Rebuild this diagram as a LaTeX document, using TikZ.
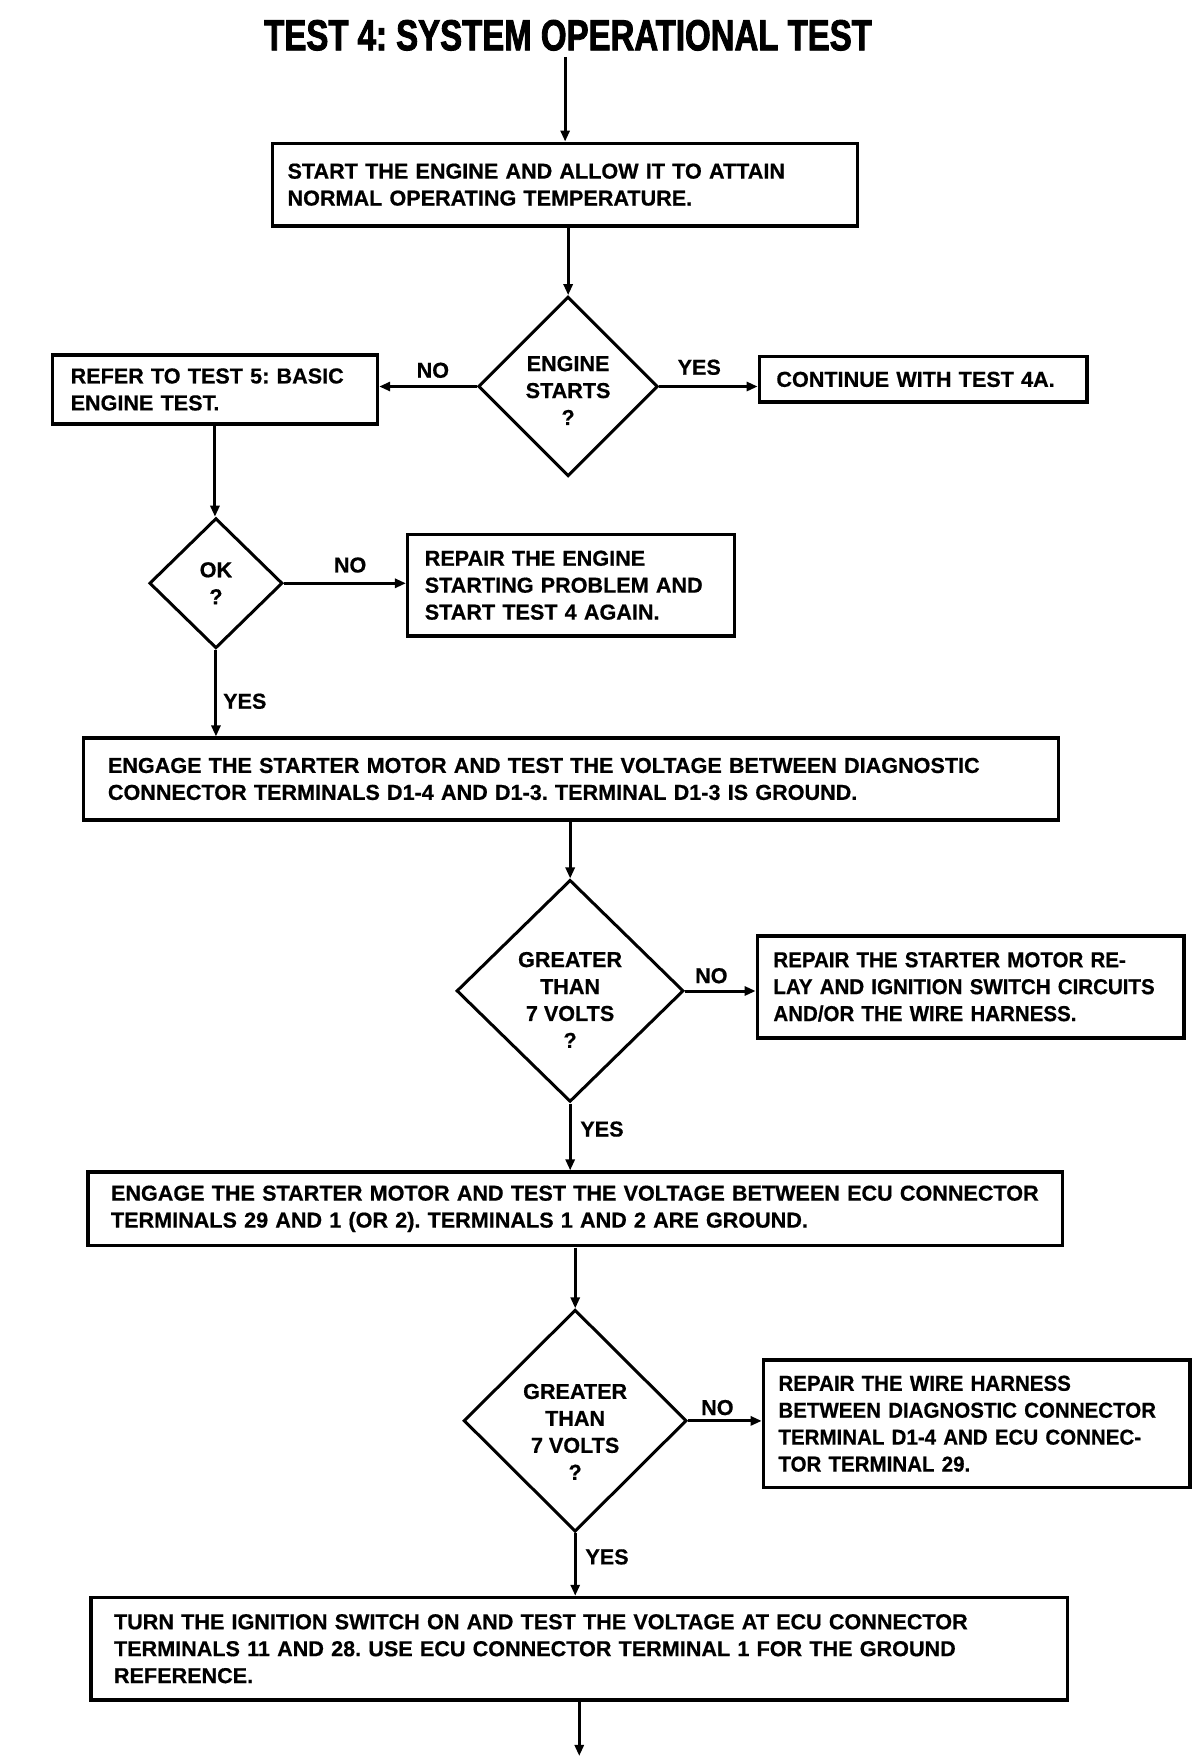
\documentclass[tikz,border=0pt]{standalone}
\usepackage{fontspec}
\setmainfont{Liberation Sans}[BoldFeatures={FakeBold=0.6}]
\newfontfamily\titlefont[FakeStretch=0.76,FakeBold=2]{Liberation Sans Bold}
\newfontfamily\narrowfont[FakeStretch=0.95,FakeBold=0.6]{Liberation Sans Bold}
\usetikzlibrary{shapes.geometric,arrows.meta,calc}
\frenchspacing
\begin{document}
\frenchspacing
\begin{tikzpicture}[x=1pt,y=-1pt, scale=1.009, transform shape,
  every node/.style={font=\fontsize{21.4}{26.7}\selectfont\bfseries},
  box/.style={draw, line width=3.5pt, align=left, inner ysep=0pt, anchor=center},
  narrow/.style={font=\narrowfont\fontsize{21.4}{26.7}\selectfont},
  dia/.style={draw, diamond, line width=3pt, inner sep=0pt},
  dtxt/.style={align=center, inner sep=0pt},
  arr/.style={line width=3pt, -{Triangle[length=11pt,width=9pt]}},
  lbl/.style={inner sep=0pt}]
\useasboundingbox (0,0) rectangle (1189.3,1742.3);
\fill[white] (0,0) rectangle (1189.3,1742.3);

\node[lbl, font=\titlefont\fontsize{43}{50}\selectfont] (title) at (563,35) {TEST 4: SYSTEM OPERATIONAL TEST};

\node[box, inner xsep=15pt, text width=550pt, minimum height=82pt] (box1) at (560,183)
  {START THE ENGINE AND ALLOW IT TO ATTAIN\\NORMAL OPERATING TEMPERATURE.};
\node[dia, minimum width=178pt, minimum height=178pt] (d1) at (563,383) {};
\node[dtxt] (d1t) at (563,387) {ENGINE\\STARTS\\?};
\node[box, inner xsep=18pt, text width=286pt, minimum height=68pt] (box2) at (213,386)
  {REFER TO TEST 5: BASIC\\ENGINE TEST.};
\node[box, inner xsep=17pt, text width=291pt, minimum height=45pt] (box3) at (915,376)
  {CONTINUE WITH TEST 4A.};
\node[dia, minimum width=132pt, minimum height=129pt] (d2) at (214,578) {};
\node[dtxt] (d2t) at (214,578) {OK\\?};
\node[box, inner xsep=17pt, text width=290pt, minimum height=101pt] (box4) at (566,580)
  {REPAIR THE ENGINE\\STARTING PROBLEM AND\\START TEST 4 AGAIN.};
\node[box, inner xsep=24pt, text width=918pt, minimum height=81pt] (box5) at (566,772)
  {ENGAGE THE STARTER MOTOR AND TEST THE VOLTAGE BETWEEN DIAGNOSTIC\\CONNECTOR TERMINALS D1-4 AND D1-3. TERMINAL D1-3 IS GROUND.};
\node[dia, minimum width=225pt, minimum height=220pt] (d3) at (565,982) {};
\node[dtxt] (d3t) at (565,991) {GREATER\\THAN\\7 VOLTS\\?};
\node[box, narrow, inner xsep=16pt, text width=391pt, minimum height=101pt] (box6) at (962,978)
  {\mbox{REPAIR THE STARTER MOTOR RE-}\\\mbox{LAY AND IGNITION SWITCH CIRCUITS}\\\mbox{AND/OR THE WIRE HARNESS.}};
\node[box, inner xsep=23pt, text width=920pt, minimum height=73pt] (box7) at (570,1198)
  {ENGAGE THE STARTER MOTOR AND TEST THE VOLTAGE BETWEEN ECU CONNECTOR\\TERMINALS 29 AND 1 (OR 2). TERMINALS 1 AND 2 ARE GROUND.};
\node[dia, minimum width=221pt, minimum height=220pt] (d4) at (570,1408) {};
\node[dtxt] (d4t) at (570,1419) {GREATER\\THAN\\7 VOLTS\\?};
\node[box, narrow, inner xsep=15pt, text width=393pt, minimum height=126pt] (box8) at (968,1411)
  {\mbox{REPAIR THE WIRE HARNESS}\\\mbox{BETWEEN DIAGNOSTIC CONNECTOR}\\\mbox{TERMINAL D1-4 AND ECU CONNEC-}\\\mbox{TOR TERMINAL 29.}};
\node[box, inner xsep=23pt, text width=922pt, minimum height=102pt] (box9) at (574,1634)
  {TURN THE IGNITION SWITCH ON AND TEST THE VOLTAGE AT ECU CONNECTOR\\TERMINALS 11 AND 28. USE ECU CONNECTOR TERMINAL 1 FOR THE GROUND\\REFERENCE.};
\coordinate (end) at (574,1740);

\draw[arr] (title.south -| box1.north) ++(0,6) -- (box1.north);
\draw[arr] (d1.north |- box1.south) -- (d1.north);
\draw[arr] (d1.west) -- (d1.west -| box2.east);
\draw[arr] (d1.east) -- (d1.east -| box3.west);
\draw[arr] (box2.south) -- (box2.south |- d2.north);
\draw[arr] (d2.east) -- (d2.east -| box4.west);
\draw[arr] (d2.south) -- (d2.south |- box5.north);
\draw[arr] (d3.north |- box5.south) -- (d3.north);
\draw[arr] (d3.east) -- (d3.east -| box6.west);
\draw[arr] (d3.south) -- (d3.south |- box7.north);
\draw[arr] (d4.north |- box7.south) -- (d4.north);
\draw[arr] (d4.east) -- (d4.east -| box8.west);
\draw[arr] (d4.south) -- (d4.south |- box9.north);
\draw[arr] (box9.south) -- (end);

\node[lbl] (n1) at (429,367) {NO};
\node[lbl] (y1) at (693,364) {YES};
\node[lbl] (n2) at (347,560) {NO};
\node[lbl, anchor=west] (y2) at (221,695) {YES};
\node[lbl] (n3) at (705,967) {NO};
\node[lbl, anchor=west] (y3) at (575,1119) {YES};
\node[lbl] (n4) at (711,1395) {NO};
\node[lbl, anchor=west] (y4) at (580,1543) {YES};
\end{tikzpicture}
\end{document}
